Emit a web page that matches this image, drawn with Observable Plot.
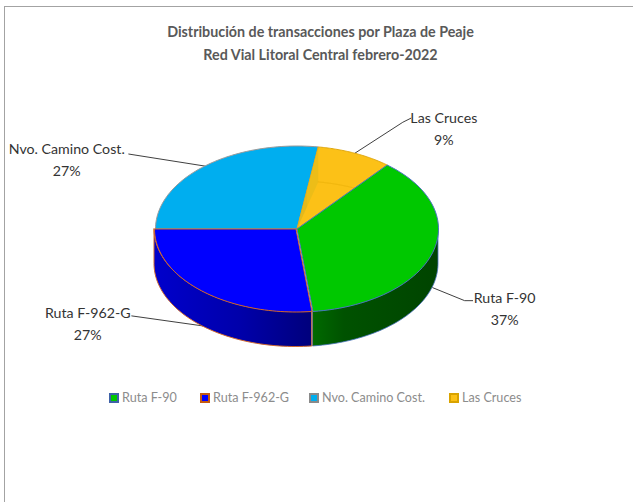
<!DOCTYPE html>
<html lang="es">
<head>
<meta charset="utf-8">
<script src="https://cdn.jsdelivr.net/npm/d3@7"></script>
<script src="https://cdn.jsdelivr.net/npm/@observablehq/plot@0.6"></script>
<style>
  html, body { margin: 0; padding: 0; background: #fff; width: 633px; height: 502px; overflow: hidden; font-family: Lato, sans-serif; }
  #frame { position: absolute; left: 4px; top: 6px; right: -4px; bottom: -4px; border-top: 1.5px solid #a3a3a3; border-left: 1.5px solid #a3a3a3; pointer-events: none; }
  #title { width: 641px; height: 70px; box-sizing: border-box; padding-top: 20px; text-align: center; color: #595959; font-weight: 700; font-size: 14.3px; line-height: 23px; }
  #chart svg { display: block; }
  #legend { position: relative; height: 26px; color: #8c8c8c; font-size: 12.6px; line-height: 26px; }
  #legend span.item { position: absolute; top: 0; white-space: nowrap; }
  #legend i { display: inline-block; box-sizing: border-box; width: 10px; height: 10px; border-width: 2px; border-style: solid; vertical-align: -1px; margin-right: 3px; }
</style>
</head>
<body>
<div id="frame"></div>
<div id="title">Distribución de transacciones por Plaza de Peaje<br>Red Vial Litoral Central febrero-2022</div>
<div id="chart"></div>
<div id="legend"></div>
<script>
// Data
const names = ["Ruta F-90", "Ruta F-962-G", "Nvo. Camino Cost.", "Las Cruces"];
const shares = [37.2, 26.8, 27.4, 8.6];
const percentLabels = ["37%", "27%", "27%", "9%"];

// Styles
const topColors = ["#00c800", "#0000ff", "#00aeef", "#fcc117"];
const edgeColors = ["#4a74c0", "#d0662a", "#9a9a9a", "#e0a810"];
const legendEdges = ["#3f62a8", "#c55a11", "#8a8a8a", "#d9a300"];
const legendLefts = [109, 200, 309, 449];

// Layout of the tilted disc
const W = 633, H = 315;
const cx = 296.5, cy = 158.5, rx = 141.5, ry = 83, depth = 35;
const firstAngle = 39.6;
const rad = d => d * Math.PI / 180;
const rimX = t => Math.sin(rad(t));
const rimY = t => -Math.cos(rad(t));
const wall = depth / ry;

// Slices from shares
const total = d3.sum(shares);
let acc = firstAngle;
const slices = names.map((name, i) => {
  const a0 = acc, a1 = acc + shares[i] / total * 360;
  acc = a1;
  return {name, i, a0, a1, mid: (a0 + a1) / 2};
});
const arc = (a0, a1) => d3.range(0, 61).map(k => a0 + (a1 - a0) * k / 60);
const wedge = s => [{x: 0, y: 0}, ...arc(s.a0, s.a1).map(t => ({x: rimX(t), y: rimY(t)})), {x: 0, y: 0}];
const sidePts = (a0, a1) => arc(a0, a1).map(t => ({x: rimX(t), y1: rimY(t), y2: rimY(t) + wall}));

const [green, blue, cyan, gold] = slices;

// Leader offsets in pixels relative to where the leader leaves the disc
const leaders = [
  {drop: wall, path: [[32, 13], [40, 13]], text: [32, 6]},
  {drop: wall, path: [[-71, -10]], text: [-44, 6]},
  {drop: 0, path: [[-76, -12]], text: [-62, 4]},
  {drop: 0, path: [[48, -31], [56, -35]], text: [33, 9]}
];
const leaderPts = slices.map((s, i) => {
  const L = leaders[i];
  const x0 = rimX(s.mid), y0 = rimY(s.mid) + L.drop;
  return [{x: x0, y: y0}, ...L.path.map(([dx, dy]) => ({x: x0 + dx / rx, y: y0 + dy / ry}))];
});
const lead = d3.merge(leaderPts.map((pts, i) => pts.map(p => ({...p, i}))));
const labelMarks = slices.map((s, i) => {
  const end = leaderPts[i][leaderPts[i].length - 1];
  return Plot.text([{x: end.x, y: end.y, t: s.name + "\n" + percentLabels[i]}], {
    x: "x", y: "y", text: "t",
    dx: leaders[i].text[0], dy: leaders[i].text[1],
    textAnchor: "middle", lineAnchor: "middle", lineHeight: 1.55,
    fontSize: 14.2, fontFamily: "Lato, sans-serif", fill: "#333333"
  });
});

const defs = () => {
  const d = d3.create("svg:defs");
  const grad = (id, stops) => {
    const g = d.append("linearGradient").attr("id", id).attr("x1", 0).attr("x2", 1).attr("y1", 0).attr("y2", 0);
    stops.forEach(([o, c]) => g.append("stop").attr("offset", o).attr("stop-color", c));
  };
  grad("blueSide", [[0, "#0000cc"], [0.55, "#0000aa"], [1, "#00007c"]]);
  grad("greenSide", [[0, "#006a00"], [0.25, "#005200"], [1, "#004400"]]);
  grad("goldWall", [[0, "#e3b91c"], [0.45, "#e3b91c"], [0.5, "#ecbd18"], [1, "#ecbd18"]]);
  return d.node();
};

const topFace = (s, shift = 0) => Plot.line(wedge(s), {
  x: "x", y: "y", fill: () => s.name, stroke: edgeColors[s.i], strokeWidth: 1, curve: "linear", dx: shift
});

const goldWall = [
  {x: 0, y: 0},
  {x: rimX(gold.a0), y: rimY(gold.a0)},
  {x: rimX(gold.a0), y: rimY(gold.a0) + wall},
  {x: 0, y: 0}
];
// bottom rim of the far wall seen through the yellow slice
const goldRim = arc(gold.a0, gold.a0 + 15.5).map(t => ({x: rimX(t), y: rimY(t) + wall}));

const chart = Plot.plot({
  width: W, height: H, margin: 0,
  style: {background: "transparent"},
  x: {domain: [-cx / rx, (W - cx) / rx], range: [0, W], axis: null},
  y: {domain: [-cy / ry, (H - cy) / ry], range: [0, H], axis: null},
  color: {domain: names, range: topColors},
  marks: [
    defs,
    Plot.line(lead, {x: "x", y: "y", z: "i", stroke: "#404040", strokeWidth: 1, curve: "linear"}),
    topFace(cyan),
    topFace(gold),
    Plot.line(goldWall, {x: "x", y: "y", fill: "url(#goldWall)", stroke: "none", curve: "linear"}),
    Plot.line(goldRim, {x: "x", y: "y", stroke: "#efb50c", strokeWidth: 1, curve: "linear"}),
    Plot.area(sidePts(90, green.a1), {x1: "x", y1: "y1", x2: "x", y2: "y2", fill: "url(#greenSide)", stroke: edgeColors[0], strokeWidth: 0.8, curve: "linear"}),
    topFace(green),
    Plot.area(sidePts(blue.a0, 270), {x1: "x", y1: "y1", x2: "x", y2: "y2", fill: "url(#blueSide)", stroke: edgeColors[1], strokeWidth: 1, curve: "linear", dx: -1}),
    topFace(blue, -1),
    ...labelMarks
  ]
});
document.getElementById("chart").append(chart);

const legend = d3.select("#legend");
names.forEach((name, i) => {
  const item = legend.append("span").attr("class", "item").style("left", legendLefts[i] + "px");
  item.append("i").style("background", topColors[i]).style("border-color", legendEdges[i]);
  item.append("span").text(name);
});
</script>
</body>
</html>
